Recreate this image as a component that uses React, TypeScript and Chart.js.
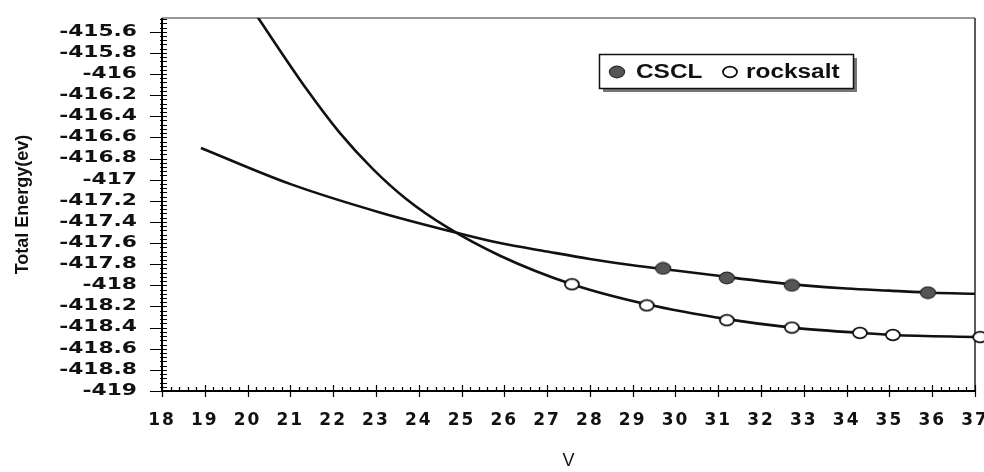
import React, { useEffect, useRef } from 'react';
import { Chart, registerables } from 'chart.js';

Chart.register(...registerables);

// ---- data ----
const xTicks = [18, 19, 20, 21, 22, 23, 24, 25, 26, 27, 28, 29, 30, 31, 32, 33, 34, 35, 36, 37];
const yTicks = [
  -415.6, -415.8, -416, -416.2, -416.4, -416.6, -416.8, -417, -417.2,
  -417.4, -417.6, -417.8, -418, -418.2, -418.4, -418.6, -418.8, -419,
];

// measured points
const csclVolume = [29.71, 31.2, 32.72, 35.9];
const csclEnergy = [-417.84, -417.93, -418.0, -418.07];
const rockVolume = [27.58, 29.33, 31.2, 32.72, 34.31, 35.08, 37.12];
const rockEnergy = [-417.99, -418.19, -418.33, -418.4, -418.45, -418.47, -418.49];

// fitted curves
const csclFitVolume = [18.91, 20.99, 23.09, 24.96, 25.9, 27, 28, 29, 30, 31, 32, 33, 34, 35, 36, 37];
const csclFitEnergy = [-416.7, -417.04, -417.31, -417.51, -417.6, -417.68, -417.75, -417.81, -417.86, -417.91, -417.96, -418.0, -418.03, -418.05, -418.07, -418.08];
const rockFitVolume = [20.1, 21.39, 22.16, 22.93, 23.73, 24.66, 25.9, 27.58, 29.33, 31.2, 32.72, 34.31, 35.08, 37.12];
const rockFitEnergy = [-415.38, -416.15, -416.56, -416.9, -417.19, -417.45, -417.72, -417.99, -418.18, -418.32, -418.4, -418.45, -418.47, -418.49];

const seriesLabels = ['CSCL', 'rocksalt'];

const pairs = (xs: number[], ys: number[]) => xs.map((x, i) => ({ x, y: ys[i] }));
const fmtY = (v: number) => String(Math.round(v * 10) / 10);

function makeMarker(filled: boolean): HTMLCanvasElement {
  const c = document.createElement('canvas');
  c.width = 18;
  c.height = 14;
  const g = c.getContext('2d')!;
  g.beginPath();
  g.ellipse(9, 7, filled ? 7.6 : 7, filled ? 5.8 : 5.4, 0, 0, Math.PI * 2);
  if (filled) {
    g.fillStyle = '#555555';
    g.fill();
    g.strokeStyle = '#2a2a2a';
    g.lineWidth = 1.2;
    g.stroke();
  } else {
    g.fillStyle = '#ffffff';
    g.fill();
    g.strokeStyle = '#111111';
    g.lineWidth = 1.8;
    g.stroke();
  }
  return c;
}

const Y_LABEL_STRETCH = 1.45;

const labelPatchPlugin = {
  id: 'labelPatch',
  afterLayout(chart: any) {
    const y = chart.scales.y;
    if (y && !y.__patched) {
      const orig = y.drawLabels.bind(y);
      y.drawLabels = (area: any) => {
        const ctx = chart.ctx;
        const x0 = y.right - y.options.ticks.padding;
        ctx.save();
        ctx.translate(x0, 0);
        ctx.scale(Y_LABEL_STRETCH, 1);
        ctx.translate(-x0, 0);
        orig(area);
        ctx.restore();
      };
      y.__patched = true;
    }
    const x = chart.scales.x;
    if (x && !x.__patched) {
      const origX = x.drawLabels.bind(x);
      x.drawLabels = (area: any) => {
        const ctx = chart.ctx;
        ctx.save();
        (ctx as any).letterSpacing = '2px';
        origX(area);
        ctx.restore();
      };
      x.__patched = true;
    }
  },
};

const axesPlugin = {
  id: 'axesFrame',
  beforeDatasetsDraw(chart: any) {
    const { ctx, chartArea: a, scales } = chart;
    const xs = scales.x;
    const ys = scales.y;
    ctx.save();
    ctx.strokeStyle = '#333';
    ctx.lineWidth = 1.2;
    ctx.beginPath();
    ctx.moveTo(a.left, a.top);
    ctx.lineTo(a.right, a.top);
    ctx.stroke();
    ctx.lineWidth = 1.6;
    ctx.beginPath();
    ctx.moveTo(a.right, a.top);
    ctx.lineTo(a.right, a.bottom);
    ctx.stroke();
    ctx.strokeStyle = '#000';
    ctx.lineWidth = 2;
    ctx.beginPath();
    ctx.moveTo(a.left, a.top);
    ctx.lineTo(a.left, a.bottom);
    ctx.lineTo(a.right, a.bottom);
    ctx.stroke();
    ctx.lineWidth = 1.2;
    ctx.beginPath();
    for (const v of yTicks) {
      const py = Math.round(ys.getPixelForValue(v)) + 0.5;
      ctx.moveTo(a.left - 12, py);
      ctx.lineTo(a.left + 5, py);
    }
    for (let k = 0; k <= 90; k++) {
      const v = ys.min + k * 0.04;
      if (v > ys.max) break;
      const py = Math.round(ys.getPixelForValue(v)) + 0.5;
      ctx.moveTo(a.left - 2, py);
      ctx.lineTo(a.left + 5, py);
    }
    for (const v of xTicks) {
      const px = Math.round(xs.getPixelForValue(v)) + 0.5;
      ctx.moveTo(px, a.bottom - 6);
      ctx.lineTo(px, a.bottom + 6);
    }
    for (let k = 0; k <= 95; k++) {
      const v = xs.min + k * 0.2;
      if (v > xs.max + 1e-9) break;
      const px = Math.round(xs.getPixelForValue(v)) + 0.5;
      ctx.moveTo(px, a.bottom - 4);
      ctx.lineTo(px, a.bottom + 1);
    }
    ctx.stroke();
    ctx.restore();
  },
};

const markerFilled = typeof document !== 'undefined' ? makeMarker(true) : null;
const markerOpen = typeof document !== 'undefined' ? makeMarker(false) : null;

const legendPlugin = {
  id: 'boxLegend',
  afterDraw(chart: any) {
    const ctx = chart.ctx;
    const bx = 599;
    const by = 54;
    const bw = 254;
    const bh = 34;
    ctx.save();
    ctx.fillStyle = '#777';
    ctx.fillRect(bx + 4, by + 4, bw, bh);
    ctx.fillStyle = '#fff';
    ctx.fillRect(bx, by, bw, bh);
    ctx.strokeStyle = '#111';
    ctx.lineWidth = 1.5;
    ctx.strokeRect(bx + 0.5, by + 0.5, bw, bh);
    const items = chart.data.datasets.filter((d: any) => d.inLegend);
    const slots = [
      { mx: 617, tx: 636 },
      { mx: 730, tx: 746 },
    ];
    ctx.font = 'bold 20px "Liberation Sans", Arial, sans-serif';
    ctx.fillStyle = '#111';
    ctx.textBaseline = 'middle';
    ctx.textAlign = 'left';
    items.forEach((d: any, i: number) => {
      const s = slots[i];
      const m = d.pointStyle as HTMLCanvasElement;
      ctx.drawImage(m, s.mx - m.width / 2, by + 18 - m.height / 2);
      ctx.save();
      ctx.translate(s.tx, by + 18);
      ctx.scale(1.22, 1);
      ctx.fillText(d.label, 0, 0);
      ctx.restore();
    });
    ctx.restore();
  },
};

export default function App() {
  const ref = useRef<HTMLCanvasElement>(null);

  useEffect(() => {
    document.body.style.margin = '0';
    const canvas = ref.current!;
    const chart = new Chart(canvas, {
      type: 'scatter',
      data: {
        datasets: [
          {
            label: seriesLabels[0],
            inLegend: true,
            data: pairs(csclVolume, csclEnergy),
            pointStyle: markerFilled,
            pointRadius: 7,
            showLine: false,
            order: 0,
            clip: false,
          } as any,
          {
            label: seriesLabels[1],
            inLegend: true,
            data: pairs(rockVolume, rockEnergy),
            pointStyle: markerOpen,
            pointRadius: 7,
            showLine: false,
            order: 0,
            clip: false,
          } as any,
          {
            label: seriesLabels[0] + ' fit',
            data: pairs(csclFitVolume, csclFitEnergy),
            showLine: true,
            pointRadius: 0,
            borderColor: '#111',
            borderWidth: 2.6,
            cubicInterpolationMode: 'monotone',
            order: 1,
          } as any,
          {
            label: seriesLabels[1] + ' fit',
            data: pairs(rockFitVolume, rockFitEnergy),
            showLine: true,
            pointRadius: 0,
            borderColor: '#111',
            borderWidth: 2.6,
            cubicInterpolationMode: 'monotone',
            order: 1,
          } as any,
        ],
      },
      options: {
        animation: false,
        responsive: false,
        devicePixelRatio: 1,
        layout: { padding: { left: 0, right: 9, top: 18, bottom: 0 } },
        plugins: {
          legend: { display: false },
          tooltip: { enabled: false },
        },
        scales: {
          x: {
            type: 'linear',
            min: 18,
            max: 37,
            afterBuildTicks: (s: any) => {
              s.ticks = xTicks.map((v) => ({ value: v }));
            },
            afterFit: (s: any) => {
              s.height = 81;
              s.paddingLeft = 0;
              s.paddingRight = 0;
            },
            grid: { display: false, drawTicks: false },
            border: { display: false },
            ticks: {
              autoSkip: false,
              maxRotation: 0,
              padding: 19,
              color: '#111',
              font: { family: '"DejaVu Sans", sans-serif', size: 17, weight: 'bold' },
              callback: (v: any) => String(v),
            },
            title: {
              display: true,
              text: 'V',
              color: '#111',
              padding: { top: 0, bottom: 0 },
              font: { family: '"Liberation Sans", Arial, sans-serif', size: 18, weight: 'normal' },
            },
          },
          y: {
            type: 'linear',
            min: -419,
            max: -415.47,
            afterBuildTicks: (s: any) => {
              s.ticks = yTicks.map((v) => ({ value: v }));
            },
            afterFit: (s: any) => {
              s.width = 162;
              s.paddingTop = 0;
              s.paddingBottom = 0;
            },
            grid: { display: false, drawTicks: false },
            border: { display: false },
            ticks: {
              autoSkip: false,
              padding: 25,
              color: '#111',
              font: { family: '"DejaVu Sans", sans-serif', size: 15, weight: 'bold' },
              callback: (v: any) => fmtY(Number(v)),
            },
            title: {
              display: true,
              text: 'Total Energy(ev)',
              color: '#111',
              padding: { top: 12, bottom: 0 },
              font: { family: '"Liberation Sans", Arial, sans-serif', size: 18, weight: 'bold' },
            },
          },
        },
      } as any,
      plugins: [labelPatchPlugin, axesPlugin, legendPlugin],
    });
    return () => chart.destroy();
  }, []);

  return (
    <canvas
      ref={ref}
      width={984}
      height={472}
      style={{ position: 'fixed', left: 0, top: 0, width: 984, height: 472, display: 'block', background: '#fff' }}
    />
  );
}
